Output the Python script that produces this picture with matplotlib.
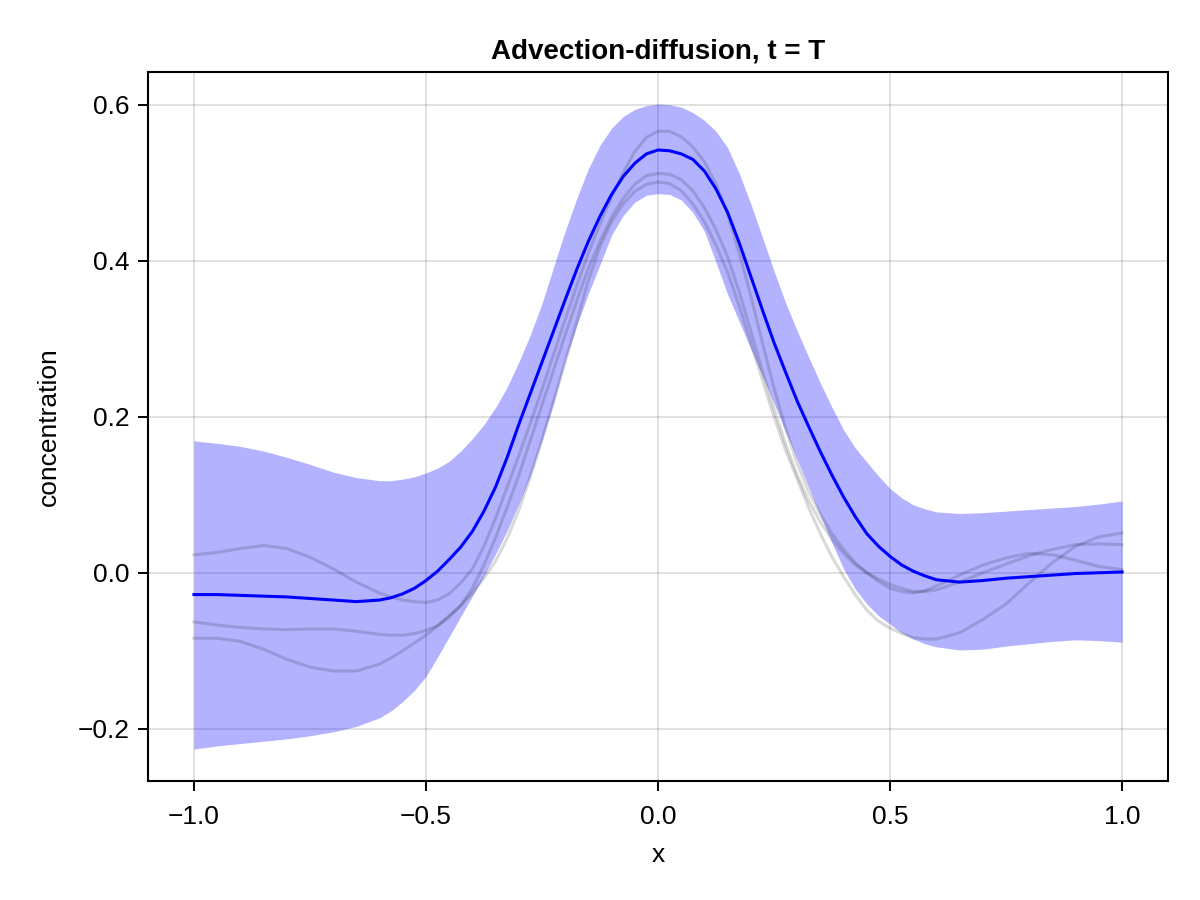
import matplotlib
matplotlib.use("Agg")
import matplotlib.pyplot as plt

plt.rcParams['font.family'] = ['Liberation Sans', 'DejaVu Sans']

x = [-1.00, -0.95, -0.90, -0.85, -0.80, -0.75, -0.70, -0.65, -0.60, -0.575, -0.55, -0.525,
     -0.500, -0.475, -0.450, -0.425, -0.400, -0.375, -0.350, -0.325, -0.300, -0.275,
     -0.250, -0.225, -0.200, -0.175, -0.150, -0.125, -0.100, -0.075, -0.050, -0.025,
     0.000, 0.025, 0.050, 0.075, 0.100, 0.125, 0.150, 0.175, 0.200, 0.225,
     0.250, 0.275, 0.300, 0.325, 0.350, 0.375, 0.400, 0.425, 0.450, 0.475,
     0.500, 0.525, 0.55, 0.575, 0.60, 0.65, 0.70, 0.75, 0.80, 0.85, 0.90, 0.95, 1.00]

mean = [-0.028, -0.028, -0.029, -0.030, -0.031, -0.033, -0.035, -0.037, -0.035, -0.032, -0.027, -0.020,
        -0.010, 0.002, 0.017, 0.033, 0.053, 0.079, 0.110, 0.148, 0.190, 0.230,
        0.270, 0.310, 0.350, 0.389, 0.425, 0.457, 0.485, 0.508, 0.525, 0.537,
        0.542, 0.541, 0.537, 0.530, 0.515, 0.492, 0.462, 0.423, 0.380, 0.337,
        0.295, 0.257, 0.220, 0.187, 0.155, 0.125, 0.097, 0.072, 0.050, 0.034,
        0.021, 0.010, 0.002, -0.004, -0.009, -0.012, -0.010, -0.007, -0.005, -0.003, -0.001, 0.000, 0.001]

upper = [0.169, 0.166, 0.162, 0.156, 0.148, 0.139, 0.129, 0.122, 0.118, 0.118, 0.120, 0.123,
         0.128, 0.134, 0.143, 0.156, 0.172, 0.190, 0.212, 0.238, 0.270, 0.305,
         0.345, 0.392, 0.438, 0.480, 0.518, 0.548, 0.570, 0.585, 0.594, 0.599,
         0.601, 0.600, 0.597, 0.590, 0.580, 0.566, 0.545, 0.512, 0.473, 0.430,
         0.387, 0.346, 0.310, 0.276, 0.243, 0.212, 0.183, 0.160, 0.142, 0.124,
         0.108, 0.096, 0.087, 0.082, 0.078, 0.076, 0.077, 0.079, 0.081, 0.083, 0.085, 0.088, 0.092]

lower = [-0.226, -0.222, -0.219, -0.216, -0.213, -0.209, -0.204, -0.197, -0.186, -0.177, -0.165, -0.151,
         -0.133, -0.108, -0.082, -0.056, -0.030, -0.004, 0.024, 0.054, 0.088, 0.125,
         0.170, 0.218, 0.272, 0.317, 0.358, 0.395, 0.433, 0.458, 0.475, 0.484,
         0.486, 0.485, 0.478, 0.462, 0.438, 0.398, 0.357, 0.322, 0.287, 0.252,
         0.217, 0.181, 0.145, 0.109, 0.073, 0.038, 0.005, -0.021, -0.040, -0.055,
         -0.066, -0.077, -0.085, -0.091, -0.095, -0.099, -0.098, -0.094, -0.091, -0.088, -0.086, -0.087, -0.089]

sample_1 = [0.023, 0.026, 0.031, 0.035, 0.031, 0.020, 0.005, -0.012, -0.026, -0.031, -0.035, -0.037,
            -0.038, -0.035, -0.027, -0.013, 0.005, 0.034, 0.070, 0.110, 0.150, 0.192,
            0.235, 0.280, 0.325, 0.368, 0.410, 0.447, 0.482, 0.513, 0.540, 0.558,
            0.566, 0.566, 0.559, 0.546, 0.527, 0.498, 0.460, 0.410, 0.355, 0.295,
            0.237, 0.185, 0.140, 0.104, 0.075, 0.050, 0.030, 0.013, 0.000, -0.011,
            -0.020, -0.024, -0.026, -0.023, -0.017, -0.003, 0.010, 0.019, 0.025, 0.023, 0.016, 0.008, 0.004]

sample_2 = [-0.063, -0.067, -0.070, -0.072, -0.073, -0.072, -0.072, -0.075, -0.079, -0.080, -0.080, -0.078,
            -0.074, -0.068, -0.057, -0.042, -0.020, 0.010, 0.045, 0.084, 0.125, 0.170,
            0.215, 0.260, 0.305, 0.349, 0.390, 0.425, 0.456, 0.480, 0.498, 0.509,
            0.512, 0.511, 0.504, 0.490, 0.468, 0.440, 0.405, 0.360, 0.310, 0.258,
            0.210, 0.165, 0.125, 0.092, 0.065, 0.043, 0.025, 0.010, 0.000, -0.008,
            -0.015, -0.020, -0.024, -0.024, -0.022, -0.012, 0.000, 0.011, 0.022, 0.030, 0.036, 0.037, 0.036]

sample_3 = [-0.084, -0.084, -0.088, -0.098, -0.111, -0.121, -0.126, -0.126, -0.117, -0.109, -0.100, -0.090,
            -0.080, -0.068, -0.055, -0.042, -0.026, -0.007, 0.015, 0.044, 0.080, 0.123,
            0.170, 0.220, 0.270, 0.322, 0.375, 0.418, 0.450, 0.473, 0.489, 0.498,
            0.501, 0.499, 0.490, 0.473, 0.450, 0.420, 0.385, 0.342, 0.295, 0.247,
            0.200, 0.157, 0.120, 0.083, 0.050, 0.020, -0.005, -0.028, -0.048, -0.062,
            -0.071, -0.078, -0.083, -0.085, -0.085, -0.077, -0.060, -0.040, -0.013, 0.013, 0.034, 0.046, 0.051]

samples = [sample_1, sample_2, sample_3]

xticks = [-1.0, -0.5, 0.0, 0.5, 1.0]
xtick_labels = ["\u22121.0", "\u22120.5", "0.0", "0.5", "1.0"]
yticks = [-0.2, 0.0, 0.2, 0.4, 0.6]
ytick_labels = ["\u22120.2", "0.0", "0.2", "0.4", "0.6"]

fig = plt.figure(figsize=(12, 9), dpi=100)
ax = fig.add_axes([148 / 1200, 1 - 781 / 900, (1168 - 148) / 1200, (781 - 72) / 900])

ax.fill_between(x, lower, upper, color=(0, 0, 1, 0.3), linewidth=0, zorder=2)
for s in samples:
    ax.plot(x, s, color=(0, 0, 0, 0.15), lw=2.2, zorder=3, solid_joinstyle='round')
ax.plot(x, mean, color='blue', lw=2.2, zorder=4, solid_joinstyle='round')

ax.set_xlim(-1.099, 1.099)
ax.set_ylim(-0.267, 0.642)
ax.set_xticks(xticks)
ax.set_xticklabels(xtick_labels)
ax.set_yticks(yticks)
ax.set_yticklabels(ytick_labels)

ax.grid(True, color='black', alpha=0.12, linewidth=1.4)
ax.set_axisbelow(True)
for sp in ax.spines.values():
    sp.set_linewidth(1.5)
    sp.set_color('black')
ax.tick_params(axis='both', direction='out', length=7, width=1.4,
               labelsize=19, colors='black')
ax.tick_params(axis='x', pad=10)
ax.tick_params(axis='y', pad=6)

ax.set_title("Advection-diffusion, t = T", fontsize=20, fontweight='bold', pad=10)
ax.set_xlabel("x", fontsize=19, labelpad=10)
ax.set_ylabel("concentration", fontsize=19, labelpad=12)

fig.savefig("out.png", dpi=100)
